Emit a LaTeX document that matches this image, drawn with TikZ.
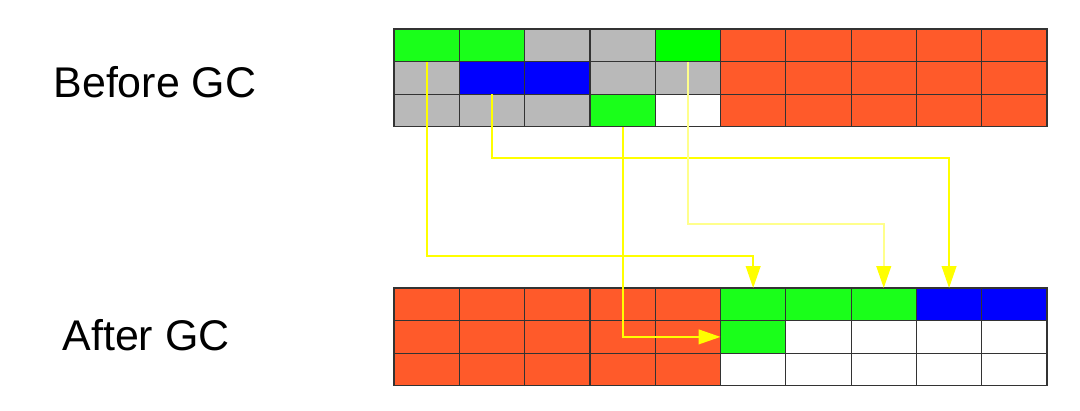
\documentclass[tikz,border=0pt]{standalone}
\usepackage{fontspec}
\setmainfont{Liberation Sans}
\usetikzlibrary{arrows.meta}

\definecolor{gcgreen}{RGB}{26,255,26}
\definecolor{gclime}{RGB}{0,255,0}
\definecolor{gcgray}{RGB}{185,185,185}
\definecolor{gcblue}{RGB}{0,0,255}
\definecolor{gcorange}{RGB}{255,90,42}
\definecolor{gcyellow}{RGB}{255,255,0}
\definecolor{gcpale}{RGB}{255,255,140}

\tikzset{every picture/.style={line width=0.75pt}}
\tikzset{
  cell/.style={draw=black!80, line width=0.9pt, inner sep=0pt, outer sep=0pt,
    minimum width=48.98pt, minimum height=24.45pt},
  gclabel/.style={anchor=base west, inner sep=0pt, font=\fontsize{32.2}{36}\selectfont},
  move/.style={draw=gcyellow, line width=1.5pt,
    -{Triangle[length=16.5pt, width=11pt, color=gcyellow]}}
}

\begin{document}
\begin{tikzpicture}[x=0.75pt,y=0.75pt,yscale=-1,xscale=1]
\useasboundingbox (0,0) rectangle (1080,410);

% Heap before collection
\foreach \r/\cl in {0/{gcgreen,gcgreen,gcgray,gcgray,gclime,gcorange,gcorange,gcorange,gcorange,gcorange},
                    1/{gcgray,gcblue,gcblue,gcgray,gcgray,gcorange,gcorange,gcorange,gcorange,gcorange},
                    2/{gcgray,gcgray,gcgray,gcgreen,white,gcorange,gcorange,gcorange,gcorange,gcorange}}{
  \foreach \col [count=\c from 0] in \cl
    \node[cell, fill=\col] (b-\r-\c) at ({394+65.3*(\c+0.5)},{29+32.6*(\r+0.5)}) {};
}

% Heap after collection
\foreach \r/\cl in {0/{gcorange,gcorange,gcorange,gcorange,gcorange,gcgreen,gcgreen,gcgreen,gcblue,gcblue},
                    1/{gcorange,gcorange,gcorange,gcorange,gcorange,gcgreen,white,white,white,white},
                    2/{gcorange,gcorange,gcorange,gcorange,gcorange,white,white,white,white,white}}{
  \foreach \col [count=\c from 0] in \cl
    \node[cell, fill=\col] (a-\r-\c) at ({394+65.3*(\c+0.5)},{288+32.6*(\r+0.5)}) {};
}

% Text Node
\node[gclabel] (before) at (53,98) {Before GC};
% Text Node
\node[gclabel] (after) at (62,350) {After GC};

% routing levels
\coordinate (lvl1) at (0,256);
\coordinate (lvl2) at (0,158);
\coordinate (lvl3) at (0,224);

% live objects moved
\draw[move] (b-1-0.north) -- (b-1-0.north |- lvl1) -| (a-0-5.north);
\draw[move] (b-2-1.north) -- (b-2-1.north |- lvl2) -| (a-0-8.north);
\draw[move, draw=gcpale] (b-1-4.north) -- (b-1-4.north |- lvl3) -| (a-0-7.north);
\draw[move] (b-2-3.south) |- (a-1-5.west);

\end{tikzpicture}
\end{document}
